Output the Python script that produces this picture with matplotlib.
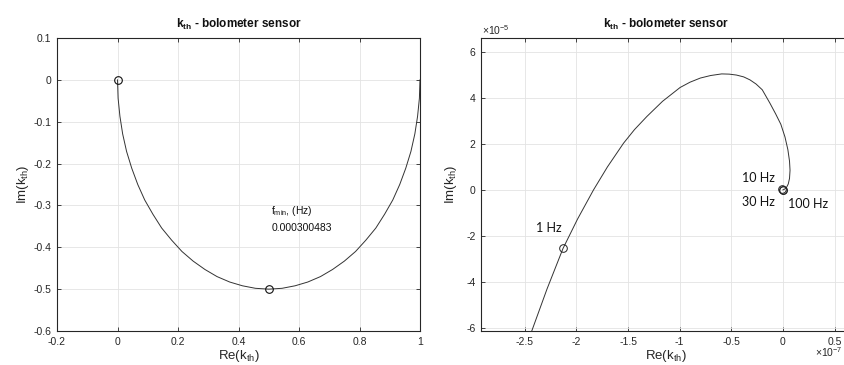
import matplotlib
matplotlib.use("Agg")
import matplotlib.pyplot as plt

plt.rcParams['font.family'] = ['Liberation Sans', 'DejaVu Sans']
plt.rcParams['axes.unicode_minus'] = False
plt.rcParams['mathtext.fontset'] = 'custom'
plt.rcParams['mathtext.rm'] = 'Liberation Sans'
plt.rcParams['mathtext.it'] = 'Liberation Sans'
plt.rcParams['mathtext.bf'] = 'Liberation Sans:bold'

# ---------------- data (left: k_th complex plane) ----------------
left_re = [1.000, 0.998, 0.992, 0.983, 0.970, 0.953, 0.933, 0.910, 0.883, 0.854,
           0.821, 0.787, 0.750, 0.711, 0.671, 0.629, 0.587, 0.544, 0.500, 0.456,
           0.413, 0.371, 0.329, 0.289, 0.250, 0.213, 0.179, 0.146, 0.117, 0.090,
           0.067, 0.047, 0.030, 0.017, 0.008, 0.002, 0.000]
left_im = [0.000, -0.044, -0.087, -0.129, -0.171, -0.211, -0.250, -0.287, -0.321, -0.354,
           -0.383, -0.410, -0.433, -0.453, -0.470, -0.483, -0.492, -0.498, -0.500, -0.498,
           -0.492, -0.483, -0.470, -0.453, -0.433, -0.410, -0.383, -0.354, -0.321, -0.287,
           -0.250, -0.211, -0.171, -0.129, -0.087, -0.044, 0.000]
left_mark_re = [0.0, 0.5]
left_mark_im = [0.0, -0.5]
left_xticks = [-0.2, 0, 0.2, 0.4, 0.6, 0.8, 1]
left_yticks = [-0.6, -0.5, -0.4, -0.3, -0.2, -0.1, 0, 0.1]
fmin_label = 'f$_{\\mathrm{min}}$, (Hz)'
fmin_value = '0.000300483'

# ---------------- data (right: Re in 1e-7, Im in 1e-5) ----------------
right_re = [-2.51, -2.43, -2.285, -2.13, -1.99, -1.835, -1.70, -1.544, -1.438, -1.318,
            -1.166, -0.996, -0.90, -0.80, -0.70, -0.593, -0.52, -0.45, -0.38, -0.319,
            -0.26, -0.20, -0.126, -0.07, -0.02, 0.02, 0.048, 0.064, 0.069, 0.064,
            0.052, 0.035, 0.015, 0.0]
right_im = [-7.0, -6.09, -4.30, -2.54, -1.27, 0.0, 1.0, 2.03, 2.62, 3.19,
            3.85, 4.45, 4.68, 4.86, 4.97, 5.04, 5.03, 4.99, 4.91, 4.78,
            4.60, 4.35, 3.77, 3.30, 2.85, 2.30, 1.75, 1.25, 0.85, 0.50,
            0.26, 0.11, 0.03, 0.0]
right_mark_re = [-2.13, -0.01, 0.0, 0.0]
right_mark_im = [-2.54, 0.03, 0.0, 0.0]
freq_labels = ['1 Hz', '10 Hz', '30 Hz', '100 Hz']
freq_lab_re = [-2.14, -0.077, -0.077, 0.048]
freq_lab_im = [-1.65, 0.52, -0.52, -0.61]
freq_lab_ha = ['right', 'right', 'right', 'left']
right_xticks = [-2.5, -2, -1.5, -1, -0.5, 0, 0.5]
right_yticks = [-6, -4, -2, 0, 2, 4, 6]

W, H = 845, 365
fig = plt.figure(figsize=(W / 100, H / 100), dpi=100)

frame_col = '#262626'
grid_col = '#e3e3e3'


def style(ax):
    for s in ax.spines.values():
        s.set_color(frame_col)
        s.set_linewidth(0.8)
    ax.tick_params(direction='in', length=3, width=0.6, colors=frame_col,
                   labelsize=7.5, top=True, right=True, pad=4)
    ax.grid(True, color=grid_col, linewidth=0.6)
    ax.set_axisbelow(True)


def fmt(v):
    return ('%g' % v)


# Left axes
ax1 = fig.add_axes([57 / W, (H - 331) / H, (420 - 57) / W, (331 - 38) / H])
style(ax1)
ax1.plot(left_re, left_im, color='#333333', lw=0.7)
ax1.plot(left_mark_re, left_mark_im, 'o', mfc='none', mec='#111111', ms=5.5, mew=0.8)
ax1.set_xlim(-0.2, 1)
ax1.set_ylim(-0.6, 0.1)
ax1.set_xticks(left_xticks)
ax1.set_xticklabels([fmt(v) for v in left_xticks])
ax1.set_yticks(left_yticks)
ax1.set_yticklabels([fmt(v) for v in left_yticks])
ax1.set_title('$\\mathbf{k_{th}}$ - bolometer sensor', fontsize=8.5, fontweight='bold',
              pad=7, color='#111111')
ax1.set_xlabel('Re(k$_{\\mathrm{th}}$)', fontsize=9.5, color=frame_col, labelpad=1)
ax1.set_ylabel('Im(k$_{\\mathrm{th}}$)', fontsize=9.5, color=frame_col, labelpad=2)
ax1.text(0.509, -0.313, fmin_label, fontsize=7.5, color='#111111', va='center', ha='left')
ax1.text(0.509, -0.354, fmin_value, fontsize=7.5, color='#111111', va='center', ha='left')

# Right axes
ax2 = fig.add_axes([481 / W, (H - 331) / H, (850 - 481) / W, (331 - 38) / H])
style(ax2)
ax2.plot(right_re, right_im, color='#333333', lw=0.7)
ax2.plot(right_mark_re, right_mark_im, 'o', mfc='none', mec='#222222', ms=5.5, mew=0.7)
ax2.set_xlim(-2.925, 0.65)
ax2.set_ylim(-6.13, 6.6)
ax2.set_xticks(right_xticks)
ax2.set_xticklabels([fmt(v) for v in right_xticks])
ax2.set_yticks(right_yticks)
ax2.set_yticklabels([fmt(v) for v in right_yticks])
ax2.set_title('$\\mathbf{k_{th}}$ - bolometer sensor', fontsize=8.5, fontweight='bold',
              pad=7, color='#111111')
ax2.set_xlabel('Re(k$_{\\mathrm{th}}$)', fontsize=9.5, color=frame_col, labelpad=1)
ax2.set_ylabel('Im(k$_{\\mathrm{th}}$)', fontsize=9.5, color=frame_col, labelpad=5)
for lab, x, y, ha in zip(freq_labels, freq_lab_re, freq_lab_im, freq_lab_ha):
    ax2.text(x, y, lab, fontsize=9, family=['Lato', 'DejaVu Sans'], color='#111111',
             ha=ha, va='center')
fig.text(482 / W, 1 - 30 / H, '$\\times10^{-5}$', fontsize=7.5, color=frame_col,
         ha='left', va='center')
fig.text(843 / W, 1 - 352 / H, '$\\times10^{-7}$', fontsize=7.5, color=frame_col,
         ha='right', va='center')

fig.savefig('out.png', dpi=100)
